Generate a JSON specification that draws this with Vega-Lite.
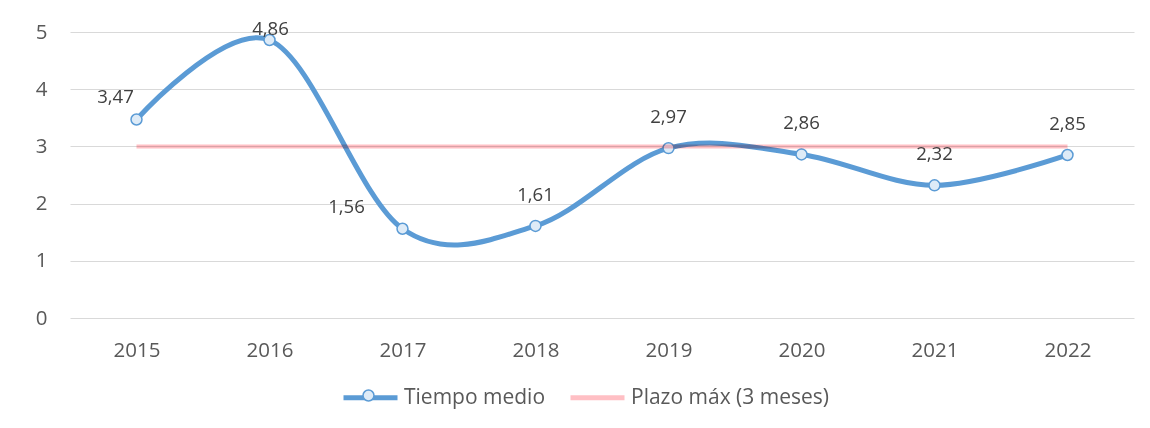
{
  "$schema": "https://vega.github.io/schema/vega-lite/v6.json",
  "width": 1064,
  "height": 286,
  "autosize": {"type": "none"},
  "padding": {"left": 70, "top": 32, "right": 16, "bottom": 110},
  "background": "white",
  "config": {
    "view": {"stroke": null},
    "font": "Open Sans",
    "locale": {"number": {"decimal": ",", "thousands": ".", "grouping": [3], "currency": ["", " €"]}},
    "axis": {"labelFont": "Open Sans", "labelFontSize": 20.5, "labelColor": "#595959", "ticks": false, "domain": false},
    "legend": {"labelFont": "Open Sans"}
  },
  "data": {
    "values": [
      {"year": "2015", "serie": "Tiempo medio", "value": 3.47},
      {"year": "2016", "serie": "Tiempo medio", "value": 4.86},
      {"year": "2017", "serie": "Tiempo medio", "value": 1.56},
      {"year": "2018", "serie": "Tiempo medio", "value": 1.61},
      {"year": "2019", "serie": "Tiempo medio", "value": 2.97},
      {"year": "2020", "serie": "Tiempo medio", "value": 2.86},
      {"year": "2021", "serie": "Tiempo medio", "value": 2.32},
      {"year": "2022", "serie": "Tiempo medio", "value": 2.85},
      {"year": "2015", "serie": "Plazo máx (3 meses)", "value": 3},
      {"year": "2016", "serie": "Plazo máx (3 meses)", "value": 3},
      {"year": "2017", "serie": "Plazo máx (3 meses)", "value": 3},
      {"year": "2018", "serie": "Plazo máx (3 meses)", "value": 3},
      {"year": "2019", "serie": "Plazo máx (3 meses)", "value": 3},
      {"year": "2020", "serie": "Plazo máx (3 meses)", "value": 3},
      {"year": "2021", "serie": "Plazo máx (3 meses)", "value": 3},
      {"year": "2022", "serie": "Plazo máx (3 meses)", "value": 3}
    ]
  },
  "encoding": {
    "x": {"field": "year", "type": "ordinal", "title": null,
      "scale": {"type": "point", "padding": 0.5},
      "axis": {"labelAngle": 0, "labelPadding": 22, "grid": false}},
    "y": {"field": "value", "type": "quantitative", "title": null,
      "scale": {"domain": [0, 5], "nice": false, "zero": true},
      "axis": {"values": [0, 1, 2, 3, 4, 5], "grid": true, "gridColor": "#D9D9D9", "gridWidth": 1.2, "labelPadding": 23}}
  },
  "layer": [
    {
      "transform": [{"filter": "datum.serie === 'Tiempo medio'"}],
      "mark": {"type": "line", "interpolate": "cardinal", "tension": 0, "strokeWidth": 5, "strokeCap": "round"},
      "encoding": {
        "color": {"field": "serie", "type": "nominal",
          "scale": {"domain": ["Tiempo medio", "Plazo máx (3 meses)"], "range": ["#5B9BD5", "#FFBFC4"]},
          "legend": {
            "orient": "none", "legendX": 271, "legendY": 336, "direction": "horizontal", "title": null,
            "symbolType": "stroke", "symbolSize": 2916, "symbolStrokeWidth": 5,
            "labelFontSize": 21, "labelColor": "#595959", "labelOffset": 4, "labelLimit": 0,
            "columnPadding": 14, "padding": 0
          }}
      }
    },
    {
      "transform": [{"filter": "datum.serie === 'Tiempo medio'"}],
      "mark": {"type": "circle", "size": 120, "stroke": "#5B9BD5", "strokeWidth": 1.5, "opacity": 1},
      "encoding": {
        "fill": {"field": "serie", "type": "nominal",
          "scale": {"domain": ["Tiempo medio"], "range": ["#DEEBF7"]},
          "legend": {
            "orient": "none", "legendX": 292, "legendY": 357, "title": null,
            "symbolType": "circle", "symbolSize": 120, "symbolStrokeColor": "#5B9BD5", "symbolStrokeWidth": 1.5,
            "symbolOpacity": 1, "labelExpr": "''", "padding": 0, "labelOffset": 0
          }}
      }
    },
    {
      "transform": [{"filter": "datum.serie !== 'Tiempo medio'"}],
      "mark": {"type": "line", "strokeWidth": 4, "blend": "multiply"},
      "encoding": {
        "color": {"field": "serie", "type": "nominal"}
      }
    },
    {
      "transform": [{"filter": "datum.serie === 'Tiempo medio' && datum.year >= '2018'"}],
      "mark": {"type": "text", "font": "Open Sans", "fontSize": 18.6, "color": "#404040", "baseline": "middle", "dy": -31},
      "encoding": {"text": {"field": "value", "type": "quantitative", "format": ".2f"}}
    },
    {
      "transform": [{"filter": "datum.serie === 'Tiempo medio' && datum.year === '2015'"}],
      "mark": {"type": "text", "font": "Open Sans", "fontSize": 18.6, "color": "#404040", "baseline": "middle", "dx": -21, "dy": -23},
      "encoding": {"text": {"field": "value", "type": "quantitative", "format": ".2f"}}
    },
    {
      "transform": [{"filter": "datum.serie === 'Tiempo medio' && datum.year === '2016'"}],
      "mark": {"type": "text", "font": "Open Sans", "fontSize": 18.6, "color": "#404040", "baseline": "middle", "dx": 1, "dy": -11},
      "encoding": {"text": {"field": "value", "type": "quantitative", "format": ".2f"}}
    },
    {
      "transform": [{"filter": "datum.serie === 'Tiempo medio' && datum.year === '2017'"}],
      "mark": {"type": "text", "font": "Open Sans", "fontSize": 18.6, "color": "#404040", "baseline": "middle", "dx": -56, "dy": -22},
      "encoding": {"text": {"field": "value", "type": "quantitative", "format": ".2f"}}
    }
  ]
}
